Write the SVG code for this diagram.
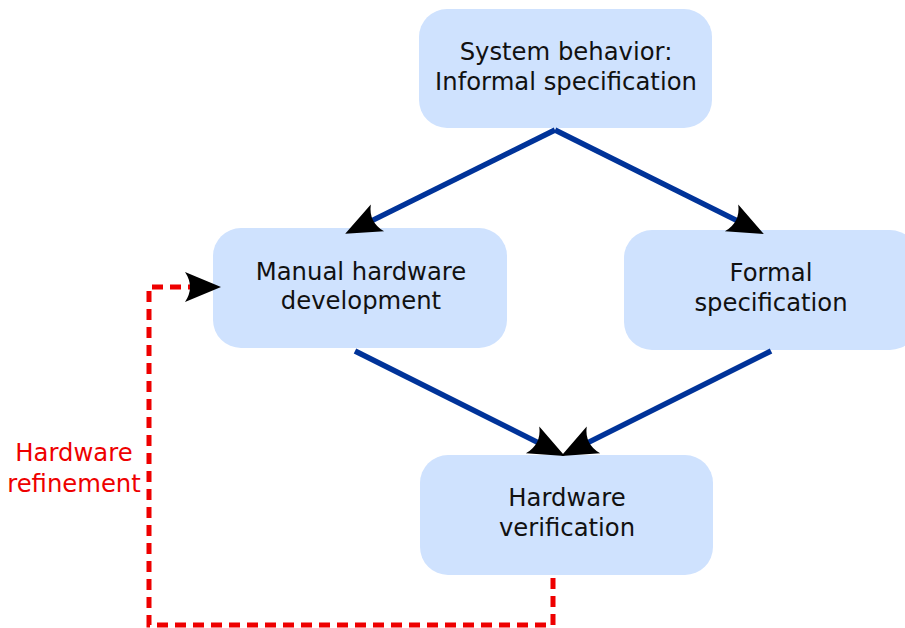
<svg xmlns="http://www.w3.org/2000/svg" width="905" height="628" viewBox="0 0 905 628">
<style>
.box{fill:#cfe2fe;}
.lbl{font-family:"DejaVu Sans",sans-serif;font-size:24.3px;fill:#111;text-anchor:middle;}
.flow{fill:none;stroke:#003399;stroke-width:5.5;marker-end:url(#ah);}
.loop{fill:none;stroke:#ee0000;stroke-width:5;stroke-dasharray:11 7;marker-end:url(#ah);}
.red{font-family:"DejaVu Sans",sans-serif;font-size:24.3px;fill:#ee0000;text-anchor:middle;}
</style>
<defs>
<marker id="ah" markerUnits="userSpaceOnUse" markerWidth="40" markerHeight="36" refX="15" refY="18" orient="auto">
<path d="M37,18 L1,3 Q11,18 1,33 Z" fill="#000"/>
</marker>
</defs>
<g id="system-behavior">
<rect class="box" x="419" y="9" width="293" height="119" rx="28"/>
<text class="lbl" x="566" y="60">System behavior:</text>
<text class="lbl" x="566" y="90">Informal specification</text>
</g>
<g id="manual-hardware">
<rect class="box" x="213" y="228" width="294" height="120" rx="28"/>
<text class="lbl" x="361" y="280">Manual hardware</text>
<text class="lbl" x="361" y="309">development</text>
</g>
<g id="formal-specification">
<rect class="box" x="624" y="230" width="294" height="120" rx="28"/>
<text class="lbl" x="771" y="281">Formal</text>
<text class="lbl" x="771" y="311">specification</text>
</g>
<g id="hardware-verification">
<rect class="box" x="420" y="455" width="293" height="120" rx="28"/>
<text class="lbl" x="567" y="506">Hardware</text>
<text class="lbl" x="567" y="536">verification</text>
</g>
<g id="refinement-label">
<text class="red" x="74" y="461">Hardware</text>
<text class="red" x="74" y="492">refinement</text>
</g>
<g id="connectors">
<path class="flow" d="M555,130 L364.9,224.1"/>
<path class="flow" d="M555,130 L744.1,224.1"/>
<path class="flow" d="M355,351 L545.1,446.1"/>
<path class="flow" d="M771,351 L580.9,446.1"/>
<path class="loop" d="M553,578 V625 H149 V287 H199"/>
</g>
</svg>
